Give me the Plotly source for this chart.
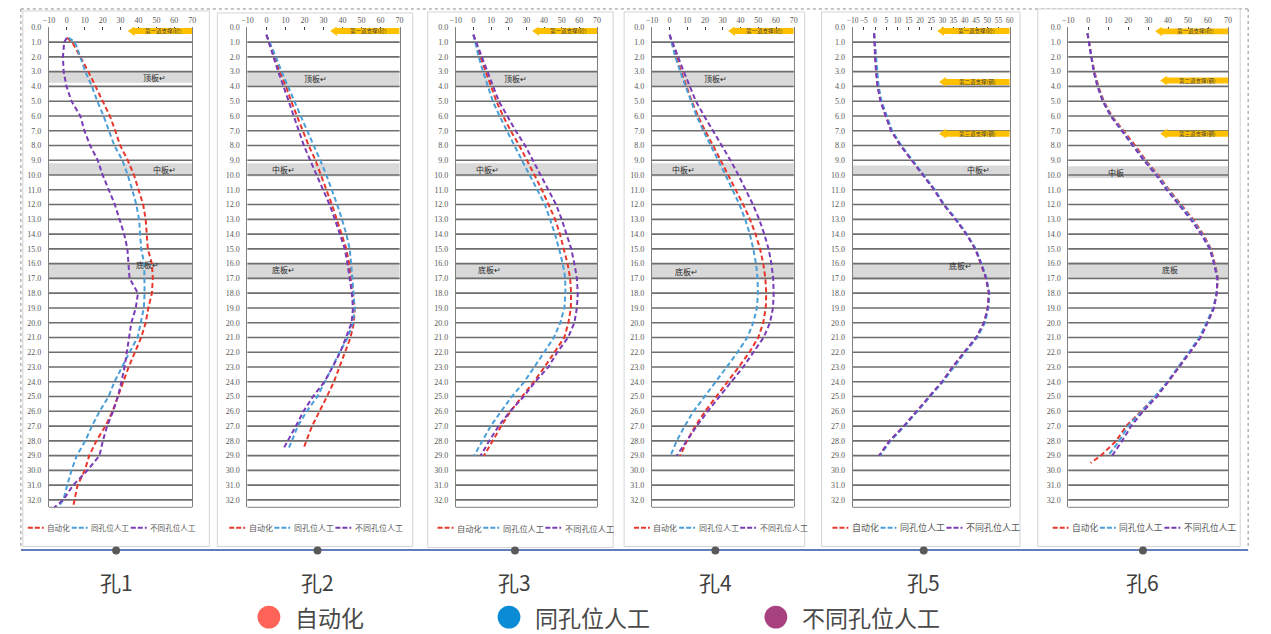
import plotly.graph_objects as go

W, H = 1271, 634

# ---------------------------------------------------------------
# Inclinometer data: depth (m) and lateral displacement (mm)
# ---------------------------------------------------------------
hole_names = ["孔1", "孔2", "孔3", "孔4", "孔5", "孔6"]
series_names = ["自动化", "同孔位人工", "不同孔位人工"]

h1_depth = [0.7, 1, 2, 3, 4, 5, 6, 7, 8, 9, 10, 11, 12, 13, 14, 15, 16,
            17, 18, 19, 20, 21, 22, 23, 24, 25, 26, 27, 28, 29, 30, 31, 32, 32.5]
h1_auto = [0, 3, 7.5, 12, 16, 20, 24, 27, 29.8, 34, 37.5, 40, 42.6, 44, 44.6, 45.2, 47.5,
           48, 47.5, 45.5, 44, 41.5, 38, 34.5, 31.5, 28.5, 25.5, 21.5, 16.5, 12.5, 10, 6, 4, 3.4]
h1_same = [1.0, 4.5, 7.5, 10.3, 14, 17, 20.5, 23.5, 26.5, 31, 34, 36.5, 38.8, 40.3, 41, 41.5, 43.2,
           43.4, 43.4, 43, 41.3, 39.5, 35, 31, 26.6, 23.3, 18.3, 14, 10.3, 5.5, 2.6, 0.2, -2, -5]
h1_diff = [0, -1.5, -2.2, -1.8, -0.2, 2.6, 7.5, 9.8, 13, 17.2, 20, 23.5, 26.8, 29.4, 32, 33.8, 34.5,
           35, 39.7, 38.5, 36, 34.8, 33.6, 32.2, 30.5, 28.5, 25.8, 22.5, 20.1, 18.2, 11.5, 3.5, -2, -7]

h2_depth = [0.5, 1, 2, 3, 4, 5, 6, 7, 8, 9, 10, 11, 12, 13, 14, 15, 16, 17, 18, 19, 20,
            21, 22, 23, 24, 25, 26, 27, 28, 28.5]
h2_auto = [0, 1.5, 4.3, 7, 10.3, 13, 16, 19, 22.2, 25.8, 28.8, 31.8, 34.4, 37, 39.5, 42, 43.5,
           44.5, 45.7, 46.4, 46, 44.2, 41.3, 38.6, 35.5, 31.8, 27.8, 24, 21, 19.6]
h2_same = [0, 1.8, 5, 8, 11.5, 14.7, 18, 21.5, 24.8, 28.3, 31.5, 34.5, 37.2, 39.7, 42, 43.8, 44.6,
           45.2, 45.8, 46.4, 45.5, 42.8, 38.5, 34.6, 30.8, 26.8, 21.2, 16.5, 13.4, 11.7]
h2_diff = [0, 1.2, 3.7, 6.2, 9, 11.6, 14.3, 16.8, 19.7, 23, 26.5, 30, 33.2, 36, 38.8, 41.2, 42.6,
           43.7, 44.9, 45.5, 44.8, 41.8, 38.8, 34.8, 30.5, 24.5, 19.5, 15.5, 11.0, 9.1]

h3_depth = [0.5, 1, 2, 3, 4, 5, 6, 7, 8, 9, 10, 11, 12, 13, 14, 15, 16, 17, 18, 19, 20,
            21, 22, 23, 24, 25, 26, 27, 28, 29]
h3_auto = [0, 1.2, 4, 7, 10.2, 13, 16.8, 21.1, 26, 30.5, 34.6, 38.8, 42.6, 46.3, 49, 51.3, 53.3,
           54.8, 55.3, 55.2, 53.8, 51.5, 46, 40.3, 34.2, 27.4, 21, 15.8, 10.7, 6]
h3_same = [0, 1, 3, 5.5, 8.1, 11, 14.8, 19.2, 23.2, 27.5, 31.7, 36, 40.5, 43.4, 46.2, 48.5, 50.6,
           52, 52.1, 51.5, 49.2, 45.6, 40.3, 34.5, 28.8, 21.8, 15.7, 9.8, 5.1, 0.4]
h3_diff = [0, 1.5, 4.8, 8, 11, 14.4, 19.2, 23.9, 29.3, 33.7, 38.3, 42.6, 46.8, 50, 52.7, 55.4, 57.2,
           58.6, 59.1, 58.6, 57.2, 53.6, 47.5, 42.5, 35, 28.5, 20.8, 14.3, 9, 4.1]

h4_depth = [0.5, 1, 2, 3, 4, 5, 6, 7, 8, 9, 10, 11, 12, 13, 14, 15, 16, 17, 18, 19, 20,
            21, 22, 23, 24, 25, 26, 27, 28, 29]
h4_auto = [0, 1.2, 3.8, 6.6, 9.6, 12.5, 16, 20, 24.5, 28.8, 33, 37.3, 41.5, 45.3, 48.5, 51, 52.8,
           54, 54.5, 54.2, 52.8, 50, 45, 39, 32.5, 26, 20, 14.5, 9.8, 6]
h4_same = [0, 1, 3.2, 6, 9, 11.8, 15.2, 19, 23.3, 27.5, 31.5, 35.5, 39.4, 42.6, 45.2, 47.2, 48.7,
           49.6, 49.8, 49.2, 47.2, 43.8, 38.3, 32.2, 25.8, 19.5, 13.5, 8.5, 4, 0.5]
h4_diff = [0, 1.5, 4.8, 8, 11.3, 14.8, 19.5, 24.5, 29.6, 34.3, 38.8, 43, 47, 50.5, 53.4, 55.8, 57.4,
           58.4, 58.7, 58.3, 56.6, 53, 47.5, 41.5, 34.8, 28, 21.5, 15.3, 9.8, 4]

h5_depth = [0.4, 1, 2, 3, 4, 5, 6, 7, 8, 9, 10, 11, 12, 13, 14, 15, 16, 17, 18, 19, 20,
            21, 22, 23, 24, 25, 26, 27, 28, 29]
h5_auto = [-0.4, -0.2, 0.2, 0.6, 1.3, 2.6, 4.8, 7.3, 11.4, 16.5, 21.5, 26.5, 30.6, 36, 40.8, 44.7,
           47.1, 49.4, 50.8, 50.2, 48.6, 45.3, 39.8, 34.6, 30, 24.2, 18.5, 13, 6.5, 1.9]
h5_same = [-0.4, -0.1, 0.3, 0.8, 1.6, 2.9, 5.1, 7.6, 11.7, 16.8, 21.7, 26.7, 30.8, 36.2, 40.9, 44.9,
           47.4, 49.7, 50.9, 50.5, 49, 45.5, 40.2, 35, 30.2, 24.5, 18.7, 13.2, 6.9, 2.2]
h5_diff = [-0.4, -0.3, 0, 0.4, 1.1, 2.4, 4.6, 7.1, 11.3, 16.3, 21.3, 26.3, 30.5, 35.8, 40.6, 44.6,
           47.2, 49.5, 50.7, 50.2, 48.5, 45, 39.7, 34.5, 29.8, 24.1, 18.3, 12.8, 6.5, 1.8]

h6_depth = [0.4, 1, 2, 3, 4, 5, 6, 7, 8, 9, 10, 11, 12, 13, 14, 15, 16, 17, 18, 19, 20,
            21, 22, 23, 24, 25, 26, 27, 28, 29, 29.5]
h6_auto = [-0.4, 0.5, 1.6, 3.1, 5.1, 7.8, 11.8, 17.6, 23.5, 28.8, 35, 40.5, 46.5, 52.5, 57.5, 61.5,
           63.4, 65, 64.3, 62.8, 59.5, 56, 50.9, 45.5, 40, 33.8, 26.5, 19, 14, 6.3, 1.2]
h6_same = [-0.4, 0.4, 1.4, 2.9, 4.8, 7.5, 11.5, 17.2, 23, 28.3, 34.5, 40, 46, 52, 57, 61.2,
           63.2, 64.8, 64.2, 62.6, 59.2, 55.6, 50.4, 45, 39.6, 33.4, 26.5, 20, 15.5, 10, None]
h6_diff = [-0.4, 0.3, 1.3, 2.7, 4.6, 7.2, 11.2, 16.8, 22.6, 27.8, 34, 39.3, 45.3, 51.3, 56.5, 60.8,
           63, 64.6, 64.4, 63, 59.8, 56.3, 51, 45.4, 40.2, 34.5, 27.5, 21.5, 17, 12, None]

depths = [h1_depth, h2_depth, h3_depth, h4_depth, h5_depth, h6_depth]
values = [
    [h1_auto, h1_same, h1_diff],
    [h2_auto, h2_same, h2_diff],
    [h3_auto, h3_same, h3_diff],
    [h4_auto, h4_same, h4_diff],
    [h5_auto, h5_same, h5_diff],
    [h6_auto, h6_same, h6_diff],
]

# slab levels (top, bottom depth) per hole
slab_names = ["顶板", "中板", "底板"]
slab_levels = [
    [(3.0, 3.75), (9.2, 10.0), (16.0, 17.0)],
    [(3.0, 3.9), (9.2, 10.1), (16.0, 17.0)],
    [(3.0, 3.9), (9.2, 10.1), (16.0, 17.0)],
    [(3.0, 3.9), (9.2, 10.1), (16.0, 17.0)],
    [None, (9.35, 10.0), (16.0, 17.1)],
    [None, (9.4, 10.2), (15.9, 16.9)],
]
# strut levels (depth) per hole
strut_names = ["第一道支撑(砼)", "第二道支撑(钢)", "第三道支撑(钢)"]
strut_levels = [
    [0.25], [0.25], [0.25], [0.25],
    [0.25, 3.7, 7.2],
    [0.27, 3.6, 7.2],
]

# ---------------------------------------------------------------
# Layout geometry (pixels) and styling
# ---------------------------------------------------------------
def fx(px):
    return px / W


def fy(py):
    return 1 - py / H


LINE_COLORS = ["#E8372C", "#4A9FD8", "#7A3CB6"]
GRID = "#6E6E6E"
TXT = "#595959"
SERIF = "Liberation Serif"
CJK = "Noto Sans CJK SC"

panels = [
    dict(l=43.3, r=187.7, xmax=70, dtick=10, card=(17, 205, 7, 546), mark="↵",
         slab_lab=[(49, 3.4), (54.5, 9.6), (45, 16.05)], strut_tip=[34],
         leg=(22, 7.6), tfs=8),
    dict(l=243.3, r=396.7, xmax=70, dtick=10, card=(213, 410, 9, 546), mark="↵",
         slab_lab=[(25.7, 3.45), (9.1, 9.65), (9.1, 16.4)], strut_tip=[33.5],
         leg=(225, 8), tfs=8),
    dict(l=453.3, r=595.7, xmax=70, dtick=10, card=(425, 612, 8, 547), mark="↵",
         slab_lab=[(24, 3.45), (7.9, 9.6), (8.9, 16.4)], strut_tip=[33.3],
         leg=(435, 8.2), tfs=8),
    dict(l=651, r=794, xmax=70, dtick=10, card=(623, 805, 8, 546), mark="↵",
         slab_lab=[(25.8, 3.45), (7.9, 9.6), (9.5, 16.5)], strut_tip=[33],
         leg=(633, 8), tfs=8),
    dict(l=853.3, r=1011.7, xmax=60, dtick=5, card=(822, 1022, 8, 546), mark="↵",
         slab_lab=[None, (46.3, 9.65), (38.2, 16.1)], strut_tip=[27.7, 28.5, 28.5],
         leg=(833, 9), tfs=7.5),
    dict(l=1070.7, r=1231.7, xmax=70, dtick=10, card=(1040, 1244, 5, 546), mark="",
         slab_lab=[None, (13.7, 9.8), (41, 16.4)], strut_tip=[33.5, 36, 36],
         leg=(1055, 8.7), tfs=8),
]
PLOT_TOP, PLOT_BOT = 23.5, 506.5
Y_MAX = 32.5

fig = go.Figure()
shapes = []
annotations = []
axes = {}

# outer dotted frame
for (x0, y0, x1, y1) in [(15, 5, 1252, 5), (15, 5, 15, 548), (1252, 5, 1252, 548)]:
    shapes.append(dict(type="line", xref="paper", yref="paper", x0=fx(x0), y0=fy(y0),
                       x1=fx(x1), y1=fy(y1), line=dict(color="#8C8C8C", width=1, dash="dot"),
                       layer="below"))

for i, p in enumerate(panels):
    n = "" if i == 0 else str(i + 1)
    xa, ya = "x" + n, "y" + n

    # card behind each chart
    cl, cr, ct, cb = p["card"]
    shapes.append(dict(type="rect", xref="paper", yref="paper", x0=fx(cl), x1=fx(cr),
                       y0=fy(cb), y1=fy(ct), fillcolor="white",
                       line=dict(color="#D4D4D4", width=1), layer="below"))

    axes["xaxis" + n] = dict(
        domain=[fx(p["l"]), fx(p["r"])], range=[-10, p["xmax"]], anchor=ya, side="top",
        tickmode="linear", tick0=-10, dtick=p["dtick"], ticks="inside", ticklen=3,
        tickwidth=1, tickcolor="#404040", showgrid=False, zeroline=False, showline=False,
        tickangle=0,
        tickfont=dict(family=SERIF, size=p["tfs"], color=TXT), ticklabelstandoff=2,
        fixedrange=True)
    axes["yaxis" + n] = dict(
        domain=[fy(PLOT_BOT), fy(PLOT_TOP)], range=[Y_MAX, 0], anchor=xa,
        tickmode="array", tickvals=list(range(33)), ticktext=[f"{v:.1f}" for v in range(33)],
        ticks="", showgrid=False, zeroline=False, showline=True, mirror=True,
        linecolor="#7F7F7F", linewidth=1, ticklabelstandoff=5,
        tickfont=dict(family=SERIF, size=8, color=TXT), fixedrange=True)

    # slab bands
    for k, lev in enumerate(slab_levels[i]):
        if lev is None:
            continue
        shapes.append(dict(type="rect", xref=xa + " domain", yref=ya, x0=0, x1=1,
                           y0=lev[0], y1=lev[1], fillcolor="#D9D9D9", line=dict(width=0),
                           layer="below"))
        lx, ld = p["slab_lab"][k]
        annotations.append(dict(xref=xa, yref=ya, x=lx, y=ld, text=slab_names[k] + p["mark"],
                                showarrow=False, font=dict(family=CJK, size=8, color="#262626")))

    # horizontal grid at every metre
    for d in range(1, 33):
        shapes.append(dict(type="line", xref=xa + " domain", yref=ya, x0=0, x1=1, y0=d, y1=d,
                           line=dict(color=GRID, width=1.6), layer="below"))
    # bottom frame line
    shapes.append(dict(type="line", xref=xa + " domain", yref=ya + " domain", x0=0, x1=1,
                       y0=0, y1=0, line=dict(color="#7F7F7F", width=1), layer="below"))

    # strut arrows
    unit = (p["r"] - p["l"]) / (p["xmax"] + 10)
    for k, dm in enumerate(strut_levels[i]):
        xt = p["strut_tip"][k]
        xb = xt + 7 / unit
        xr = p["xmax"]
        b, hh = 0.2, 0.33
        path = (f"M {xt},{dm} L {xb},{dm - hh} L {xb},{dm - b} L {xr},{dm - b} "
                f"L {xr},{dm + b} L {xb},{dm + b} L {xb},{dm + hh} Z")
        shapes.append(dict(type="path", xref=xa, yref=ya, path=path, fillcolor="#FFC000",
                           line=dict(width=0), layer="above"))
        annotations.append(dict(xref=xa, yref=ya, x=(xb + xr) / 2, y=dm, text=strut_names[k],
                                showarrow=False, font=dict(family=CJK, size=5.5, color="#404040")))

    # displacement curves
    for s in range(3):
        fig.add_trace(go.Scatter(
            x=values[i][s], y=depths[i], xaxis=xa, yaxis=ya, mode="lines",
            name=series_names[s], showlegend=False, hoverinfo="skip",
            line=dict(color=LINE_COLORS[s], width=2, dash="5px,3px")))

    # small legend under each chart
    lx0, fs = p["leg"]
    x = lx0
    ly = 527
    for s in range(3):
        shapes.append(dict(type="line", xref="paper", yref="paper", x0=fx(x), x1=fx(x + 16),
                           y0=fy(ly), y1=fy(ly),
                           line=dict(color=LINE_COLORS[s], width=2, dash="5px,2px")))
        annotations.append(dict(xref="paper", yref="paper", x=fx(x + 17.5), y=fy(ly),
                                xanchor="left", yanchor="middle", text=series_names[s],
                                showarrow=False, font=dict(family=CJK, size=fs, color=TXT)))
        x = x + 17.5 + fs * len(series_names[s]) + 4

# timeline with hole labels
centers = [111, 314, 513, 715, 925, 1146]
shapes.append(dict(type="line", xref="paper", yref="paper", x0=fx(15), x1=fx(1252),
                   y0=fy(549.5), y1=fy(549.5), line=dict(color="#2F52A0", width=1.5)))
for c, name in zip(centers, hole_names):
    shapes.append(dict(type="circle", xref="paper", yref="paper", x0=fx(c - 4), x1=fx(c + 4),
                       y0=fy(554), y1=fy(546), fillcolor="#595959", line=dict(width=0)))
    annotations.append(dict(xref="paper", yref="paper", x=fx(c), y=fy(582), text=name,
                            showarrow=False, xanchor="center", yanchor="middle",
                            font=dict(family=CJK, size=21, color="#404040")))

# overall legend
legend_colors = ["#FF6257", "#0A8BD6", "#A8417F"]
legend_x = [265, 507, 776]
for c, col, name in zip(legend_x, legend_colors, series_names):
    shapes.append(dict(type="circle", xref="paper", yref="paper", x0=fx(c - 11.5), x1=fx(c + 11.5),
                       y0=fy(628.5), y1=fy(605.5), fillcolor=col, line=dict(width=0)))
    annotations.append(dict(xref="paper", yref="paper", x=fx(c + 24), y=fy(617), text=name,
                            showarrow=False, xanchor="left", yanchor="middle",
                            font=dict(family=CJK, size=23, color="#4A4A4A")))

fig.update_layout(
    width=W, height=H, autosize=False,
    margin=dict(l=0, r=0, t=0, b=0),
    paper_bgcolor="white", plot_bgcolor="rgba(0,0,0,0)",
    shapes=shapes, annotations=annotations, showlegend=False,
    **axes,
)

fig.write_html("out.html")
